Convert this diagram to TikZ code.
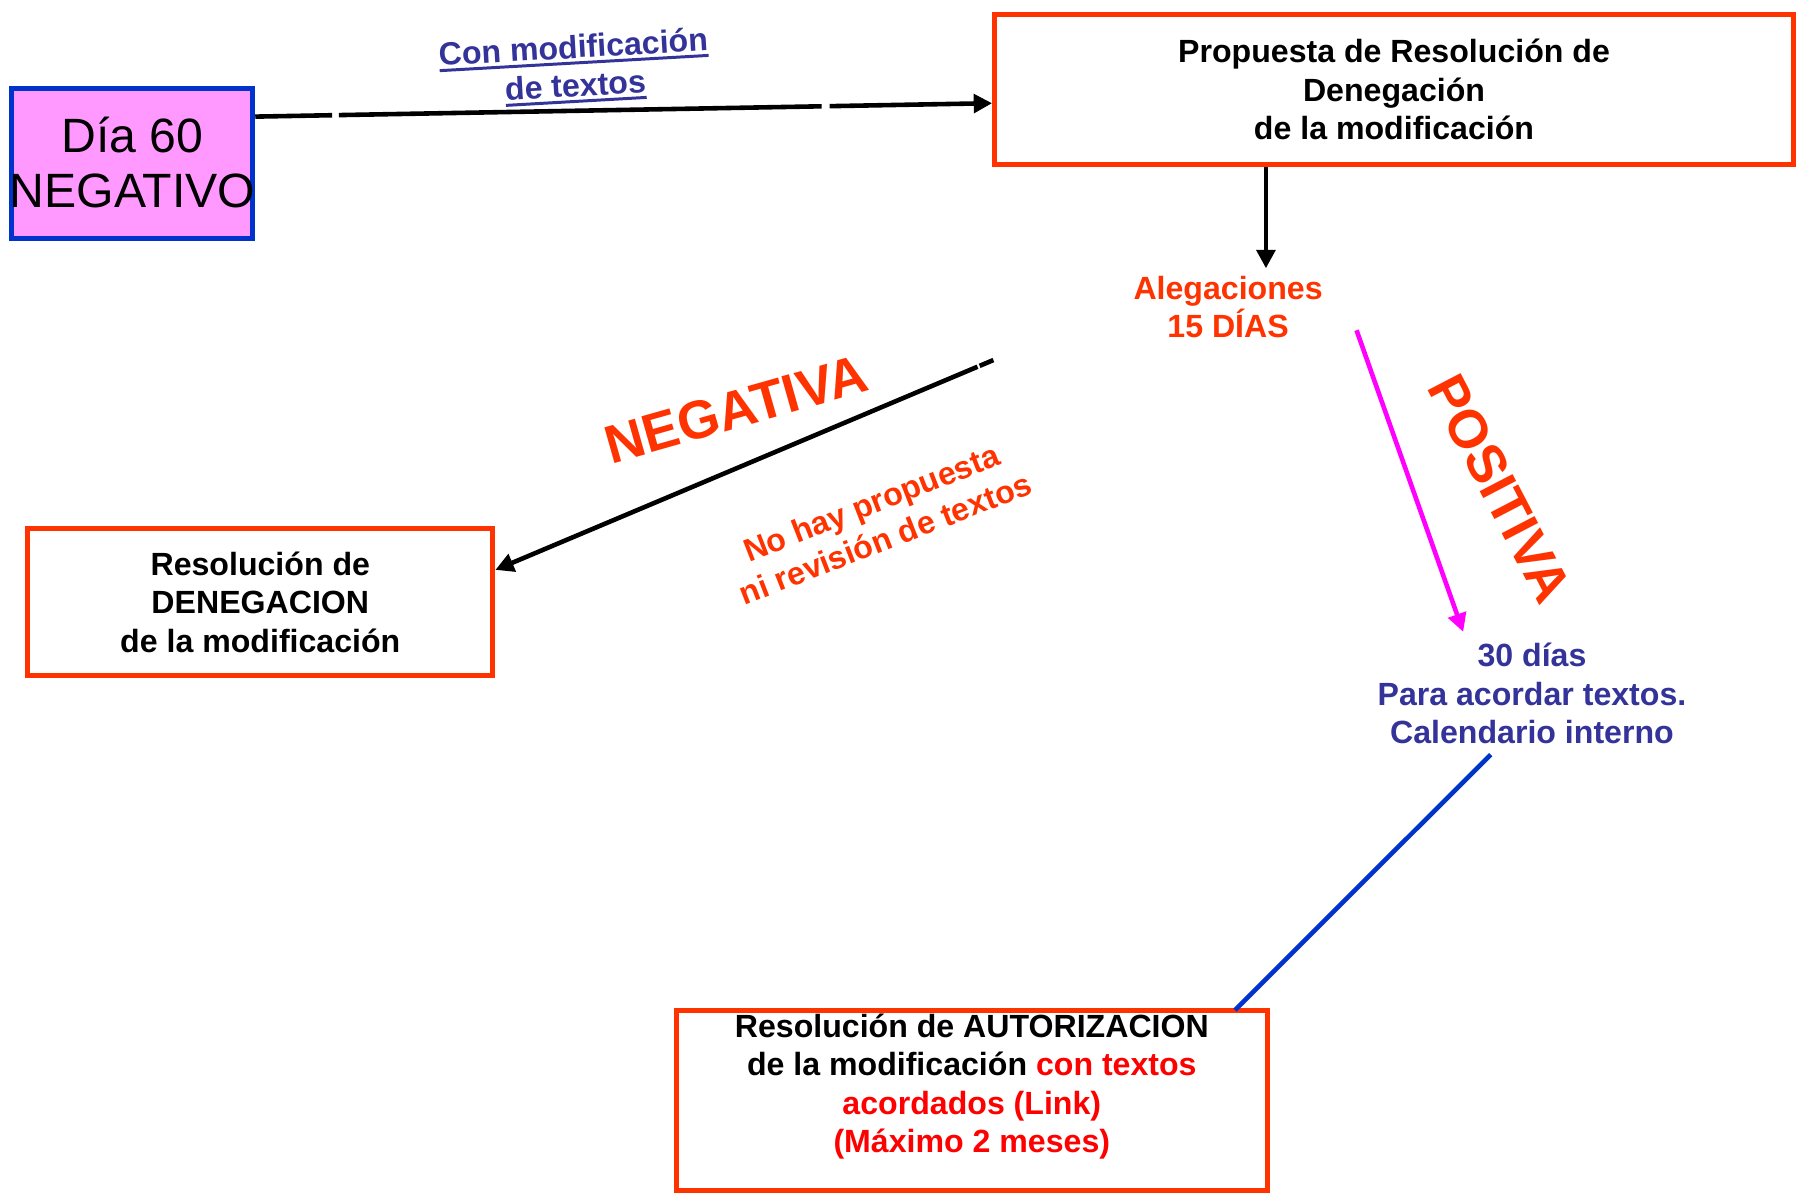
\documentclass[tikz,border=0pt]{standalone}
\usepackage{fontspec}
\setmainfont{Liberation Sans}
\usetikzlibrary{arrows.meta}
\definecolor{boxred}{HTML}{FF3300}
\definecolor{dblue}{HTML}{333399}
\definecolor{pinkf}{HTML}{FF99FF}
\definecolor{bblue}{HTML}{0033CC}
\definecolor{magen}{HTML}{FF00FF}
\definecolor{pured}{HTML}{FF0000}
\newcommand\myul[1]{\setbox0=\hbox{#1}\leavevmode\rlap{\rule[-5.5pt]{\wd0}{2.6pt}}\box0}
\begin{document}
\begin{tikzpicture}[x=1pt,y=-1pt,
  rbox/.style={draw=boxred, line width=4.4pt, inner sep=0pt},
  arr/.style={line width=4pt, -{Triangle[length=16pt,width=16pt]}},
  lbl/.style={font=\fontsize{28}{33.5}\selectfont\bfseries, align=center, inner sep=0pt},
  big/.style={font=\fontsize{47}{50}\selectfont\bfseries, text=boxred, inner sep=0pt}]
\fill[white] (0,0) rectangle (1568,1044);
\path[use as bounding box] (0,0) rectangle (1568,1044);

% boxes
\node[draw=bblue, fill=pinkf, line width=4.4pt, minimum width=210pt, minimum height=131pt, inner sep=0pt] (dia) at (115.4,142.5) {};
\node[font=\fontsize{42}{48}\selectfont, align=center, inner sep=0pt] (diaT) at (115.4,141.5) {Día 60\\NEGATIVO};
\node[rbox, lbl, minimum width=696.6pt, minimum height=131pt] (prop) at (1215.7,78) {Propuesta de Resolución de\\Denegación\\de la modificación};
\node[rbox, lbl, minimum width=405.6pt, minimum height=127.6pt] (den) at (227,525) {Resolución de\\DENEGACION\\de la modificación};
\node[rbox, minimum width=515pt, minimum height=157pt] (aut) at (847.5,959.5) {};
\node[lbl, anchor=north] (autT) at (847.5,884) {Resolución de AUTORIZACION\\de la modificación \textcolor{pured}{con textos}\\\textcolor{pured}{acordados (Link)}\\\textcolor{pured}{(Máximo 2 meses)}};

% texts
\node[lbl, text=boxred] (aleg) at (1071,268) {Alegaciones\\15 DÍAS};
\node[lbl, text=dblue] (dias) at (1336,605) {30 días\\Para acordar textos.\\Calendario interno};
\node[lbl, text=dblue, rotate=3.25] (conmod) at (501,60) {\myul{Con modificación}\\\myul{de textos}};
\node[big, rotate=15.8] (neg) at (642,357) {NEGATIVA};
\node[lbl, text=boxred, rotate=21.3] (nohay) at (766,454) {No hay propuesta\\ni revisión de textos};
\node[big, rotate=-62.5] (pos) at (1308,426) {POSITIVA};

% connectors
\coordinate (alegtip) at (1104,234);
\coordinate (negstart) at (866.3,314);
\coordinate (posstart) at (1183,288);
\coordinate (postip) at (1276,551);

\draw[arr, dash pattern=on 67pt off 6pt on 421pt off 7pt on 400pt] ([yshift=40.8pt]dia.east) -- ([yshift=-12pt]prop.west);
\draw[arr] (prop.south -| alegtip) -- (alegtip);
\draw[arr, dash pattern=on 13pt off 2pt on 700pt] (negstart) -- ([yshift=28pt]den.east);
\draw[arr, draw=magen, fill=magen] (posstart) -- (postip);
\draw[line width=4pt, bblue] ([shift={(-36,9)}]dias.south) -- ([xshift=229.5pt,yshift=-2pt]aut.north);
\end{tikzpicture}
\end{document}
